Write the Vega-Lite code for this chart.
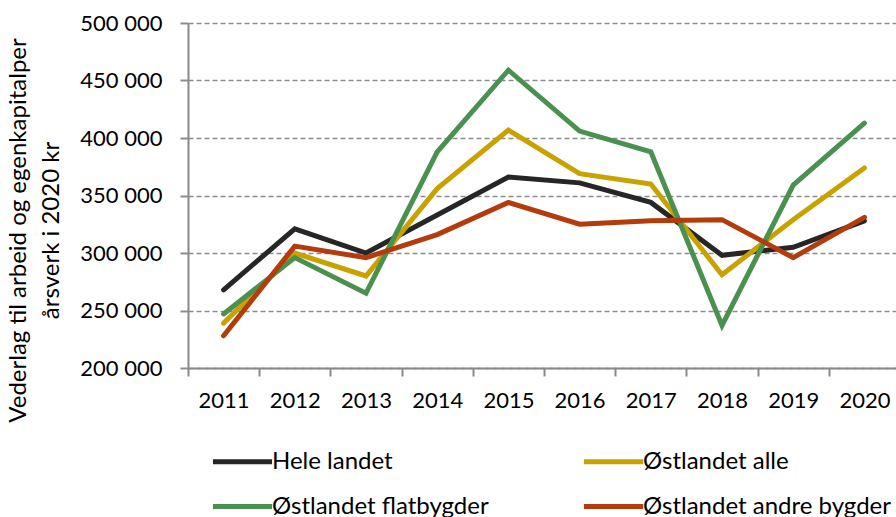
{
  "$schema": "https://vega.github.io/schema/vega-lite/v6.json",
  "autosize": {"type": "none"},
  "width": 708,
  "height": 345,
  "padding": {"left": 188, "top": 23, "right": 0, "bottom": 149},
  "background": "white",
  "config": {
    "view": {"stroke": null},
    "font": "Lato",
    "axis": {"labelFont": "Lato", "titleFont": "Lato", "labelColor": "#000000", "titleColor": "#000000"}
  },
  "data": {
    "values": [
      {"year": "2011", "serie": "Hele landet", "value": 268000},
      {"year": "2012", "serie": "Hele landet", "value": 321000},
      {"year": "2013", "serie": "Hele landet", "value": 300000},
      {"year": "2014", "serie": "Hele landet", "value": 333000},
      {"year": "2015", "serie": "Hele landet", "value": 366000},
      {"year": "2016", "serie": "Hele landet", "value": 361000},
      {"year": "2017", "serie": "Hele landet", "value": 344000},
      {"year": "2018", "serie": "Hele landet", "value": 298000},
      {"year": "2019", "serie": "Hele landet", "value": 305000},
      {"year": "2020", "serie": "Hele landet", "value": 328000},
      {"year": "2011", "serie": "Østlandet alle", "value": 239000},
      {"year": "2012", "serie": "Østlandet alle", "value": 300000},
      {"year": "2013", "serie": "Østlandet alle", "value": 280000},
      {"year": "2014", "serie": "Østlandet alle", "value": 356000},
      {"year": "2015", "serie": "Østlandet alle", "value": 407000},
      {"year": "2016", "serie": "Østlandet alle", "value": 369000},
      {"year": "2017", "serie": "Østlandet alle", "value": 360000},
      {"year": "2018", "serie": "Østlandet alle", "value": 281000},
      {"year": "2019", "serie": "Østlandet alle", "value": 329000},
      {"year": "2020", "serie": "Østlandet alle", "value": 374000},
      {"year": "2011", "serie": "Østlandet flatbygder", "value": 247000},
      {"year": "2012", "serie": "Østlandet flatbygder", "value": 296000},
      {"year": "2013", "serie": "Østlandet flatbygder", "value": 265000},
      {"year": "2014", "serie": "Østlandet flatbygder", "value": 388000},
      {"year": "2015", "serie": "Østlandet flatbygder", "value": 459000},
      {"year": "2016", "serie": "Østlandet flatbygder", "value": 406000},
      {"year": "2017", "serie": "Østlandet flatbygder", "value": 388000},
      {"year": "2018", "serie": "Østlandet flatbygder", "value": 237000},
      {"year": "2019", "serie": "Østlandet flatbygder", "value": 359000},
      {"year": "2020", "serie": "Østlandet flatbygder", "value": 413000},
      {"year": "2011", "serie": "Østlandet andre bygder", "value": 228000},
      {"year": "2012", "serie": "Østlandet andre bygder", "value": 306000},
      {"year": "2013", "serie": "Østlandet andre bygder", "value": 296000},
      {"year": "2014", "serie": "Østlandet andre bygder", "value": 316000},
      {"year": "2015", "serie": "Østlandet andre bygder", "value": 344000},
      {"year": "2016", "serie": "Østlandet andre bygder", "value": 325000},
      {"year": "2017", "serie": "Østlandet andre bygder", "value": 328000},
      {"year": "2018", "serie": "Østlandet andre bygder", "value": 329000},
      {"year": "2019", "serie": "Østlandet andre bygder", "value": 296000},
      {"year": "2020", "serie": "Østlandet andre bygder", "value": 331000}
    ]
  },
  "mark": {"type": "line", "strokeWidth": 5, "strokeCap": "round", "strokeJoin": "miter"},
  "encoding": {
    "x": {
      "field": "year",
      "type": "ordinal",
      "scale": {"type": "band", "paddingInner": 0, "paddingOuter": 0, "range": [0, 712]},
      "axis": {
        "title": null,
        "labelAngle": 0,
        "labelFontSize": 22,
        "labelPadding": 14,
        "tickBand": "extent",
        "tickSize": 8,
        "tickWidth": 2,
        "tickColor": "#898989",
        "domainColor": "#898989",
        "domainWidth": 2,
        "grid": false
      }
    },
    "y": {
      "field": "value",
      "type": "quantitative",
      "scale": {"domain": [200000, 500000], "nice": false, "zero": false},
      "axis": {
        "title": ["Vederlag til arbeid og egenkapitalper", "årsverk i 2020 kr"],
        "titleFontSize": 24,
        "titleFontWeight": "normal",
        "titleLineHeight": 33,
        "titleAngle": -90,
        "titleAlign": "center",
        "titleBaseline": "middle",
        "titleX": -170,
        "titleY": 207,
        "values": [200000, 250000, 300000, 350000, 400000, 450000, 500000],
        "labelExpr": "replace(format(datum.value, ',d'), ',', ' ')",
        "labelFontSize": 22,
        "labelPadding": 18,
        "tickSize": 8,
        "tickWidth": 2,
        "tickColor": "#8c8c8c",
        "domainColor": "#898989",
        "domainWidth": 2,
        "grid": true,
        "gridColor": "#8c8c8c",
        "gridWidth": 1.5,
        "gridDash": [5, 3]
      }
    },
    "color": {
      "field": "serie",
      "type": "nominal",
      "scale": {
        "domain": ["Hele landet", "Østlandet alle", "Østlandet flatbygder", "Østlandet andre bygder"],
        "range": ["#262626", "#c9a200", "#4a9150", "#b33c0c"]
      },
      "legend": {
        "title": null,
        "orient": "none",
        "legendX": 22,
        "legendY": 406,
        "direction": "horizontal",
        "columns": 2,
        "columnPadding": 84,
        "rowPadding": -16,
        "symbolType": "stroke",
        "symbolSize": 3500,
        "symbolStrokeWidth": 5,
        "labelFontSize": 24,
        "labelOffset": -3,
        "labelLimit": 400,
        "labelColor": "#000000"
      }
    }
  }
}
